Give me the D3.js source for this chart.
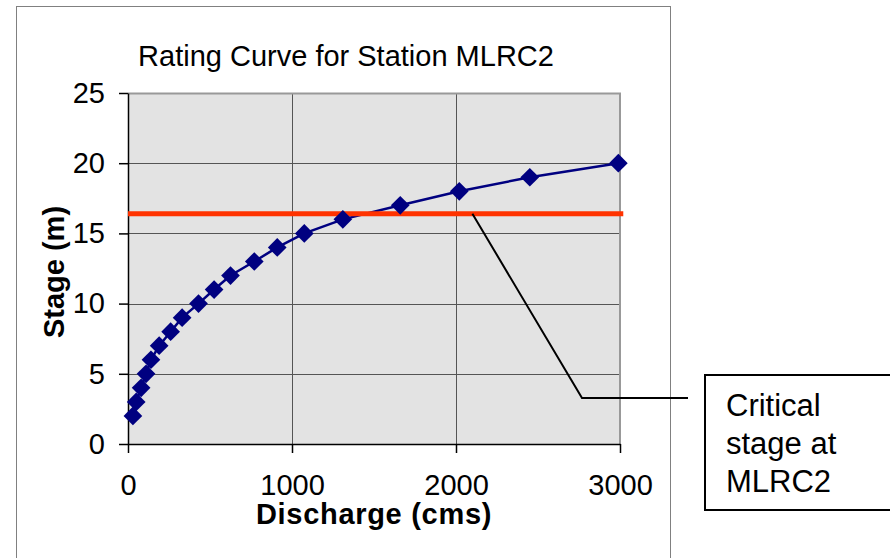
<!DOCTYPE html>
<html>
<head>
<meta charset="utf-8">
<script src="https://cdn.jsdelivr.net/npm/d3@7"></script>
<style>
  body { margin: 0; background: #fff; }
  svg { display: block; font-family: "Liberation Sans", Arial, sans-serif; }
</style>
</head>
<body>
<svg id="chart" width="890" height="558"></svg>
<script>
// rating curve
const discharge = [30, 50, 80, 110, 140, 190, 260, 330, 430, 525, 625, 770, 910, 1075, 1310, 1660, 2020, 2450, 2990]
const stage = [2, 3, 4, 5, 6, 7, 8, 9, 10, 11, 12, 13, 14, 15, 16, 17, 18, 19, 20]
const criticalStage = 16.4
const criticalRange = [0, 3020]
const xTicks = [0, 1000, 2000, 3000]
const yTicks = [0, 5, 10, 15, 20, 25]
const calloutLines = ['Critical', 'stage at', 'MLRC2']

const svg = d3.select('#chart')
const plot = { left: 128, right: 620, top: 93, bottom: 444 }

const x = d3.scaleLinear().domain([0, 3000]).range([plot.left, plot.right])
const y = d3.scaleLinear().domain([0, 25]).range([plot.bottom, plot.top])

// chart area border
svg.append('rect')
  .attr('x', 16.5).attr('y', 6.5)
  .attr('width', 654).attr('height', 600)
  .attr('fill', '#fff')
  .attr('stroke', '#808080')

svg.append('text')
  .attr('x', 346).attr('y', 66)
  .attr('text-anchor', 'middle')
  .attr('font-size', 29)
  .text('Rating Curve for Station MLRC2')

// plot area
svg.append('rect')
  .attr('x', plot.left).attr('y', plot.top)
  .attr('width', plot.right - plot.left).attr('height', plot.bottom - plot.top)
  .attr('fill', '#e3e3e3')

let grid = svg.append('g').attr('stroke', '#555').attr('stroke-width', 1)
grid.selectAll('.h').data(yTicks.slice(1)).join('line')
  .attr('x1', plot.left).attr('x2', plot.right)
  .attr('y1', d => Math.round(y(d)) + 0.5).attr('y2', d => Math.round(y(d)) + 0.5)
grid.selectAll('.v').data(xTicks.slice(1, -1)).join('line')
  .attr('y1', plot.top).attr('y2', plot.bottom)
  .attr('x1', d => Math.round(x(d)) + 0.5).attr('x2', d => Math.round(x(d)) + 0.5)

// grey top and right edges
svg.append('path')
  .attr('d', `M${plot.left},${plot.top + 0.5}H${plot.right}V${plot.bottom}`)
  .attr('fill', 'none')
  .attr('stroke', '#999')
  .attr('stroke-width', 2)

// axes
let xAxis = svg.append('g')
  .attr('transform', `translate(0,${plot.bottom})`)
  .call(d3.axisBottom(x).tickValues(xTicks).tickFormat(d3.format('d'))
    .tickSizeInner(9).tickSizeOuter(0).tickPadding(21))
let yAxis = svg.append('g')
  .attr('transform', `translate(${plot.left},0)`)
  .call(d3.axisLeft(y).tickValues(yTicks).tickFormat(d3.format('d'))
    .tickSizeInner(9).tickSizeOuter(0).tickPadding(14))

;[xAxis, yAxis].forEach(a => {
  a.attr('font-family', null).attr('font-size', 29)
  a.selectAll('line, path').attr('stroke', '#000').attr('stroke-width', 1.5)
  a.selectAll('text').attr('fill', '#000')
})
xAxis.selectAll('text').attr('dy', '0.71em')

svg.append('text')
  .attr('x', 374).attr('y', 524)
  .attr('text-anchor', 'middle')
  .attr('font-size', 29).attr('font-weight', 'bold')
  .attr('letter-spacing', 0.7)
  .text('Discharge (cms)')

svg.append('text')
  .attr('transform', 'translate(64,272) rotate(-90)')
  .attr('text-anchor', 'middle')
  .attr('font-size', 29).attr('font-weight', 'bold')
  .text('Stage (m)')

// series
let points = discharge.map((d, i) => ({ x: d, y: stage[i] }))
let line = d3.line()
  .x(d => x(d.x))
  .y(d => y(d.y))

svg.append('path')
  .datum(points)
  .attr('d', line)
  .attr('fill', 'none')
  .attr('stroke', '#000080')
  .attr('stroke-width', 2.5)

// critical stage line
svg.append('line')
  .attr('x1', x(criticalRange[0])).attr('x2', x(criticalRange[1]))
  .attr('y1', y(criticalStage)).attr('y2', y(criticalStage))
  .attr('stroke', '#ff3300')
  .attr('stroke-width', 5)

let diamond = d3.symbol().type(d3.symbolSquare).size(175)
svg.append('g').selectAll('path').data(points).join('path')
  .attr('d', diamond)
  .attr('transform', d => `translate(${x(d.x)},${y(d.y)}) rotate(45)`)
  .attr('fill', '#000080')

// callout
let lx = x(2100)
let ly = y(criticalStage)
svg.append('path')
  .attr('d', `M${lx},${ly}L582,398H688`)
  .attr('fill', 'none')
  .attr('stroke', '#000')
  .attr('stroke-width', 2)

svg.append('rect')
  .attr('x', 705).attr('y', 375)
  .attr('width', 200).attr('height', 135)
  .attr('fill', '#fff')
  .attr('stroke', '#000')
  .attr('stroke-width', 2)

svg.append('text')
  .attr('font-size', 31)
  .selectAll('tspan').data(calloutLines).join('tspan')
  .attr('x', 726)
  .attr('y', (d, i) => 416 + i * 38)
  .text(d => d)
</script>
</body>
</html>
